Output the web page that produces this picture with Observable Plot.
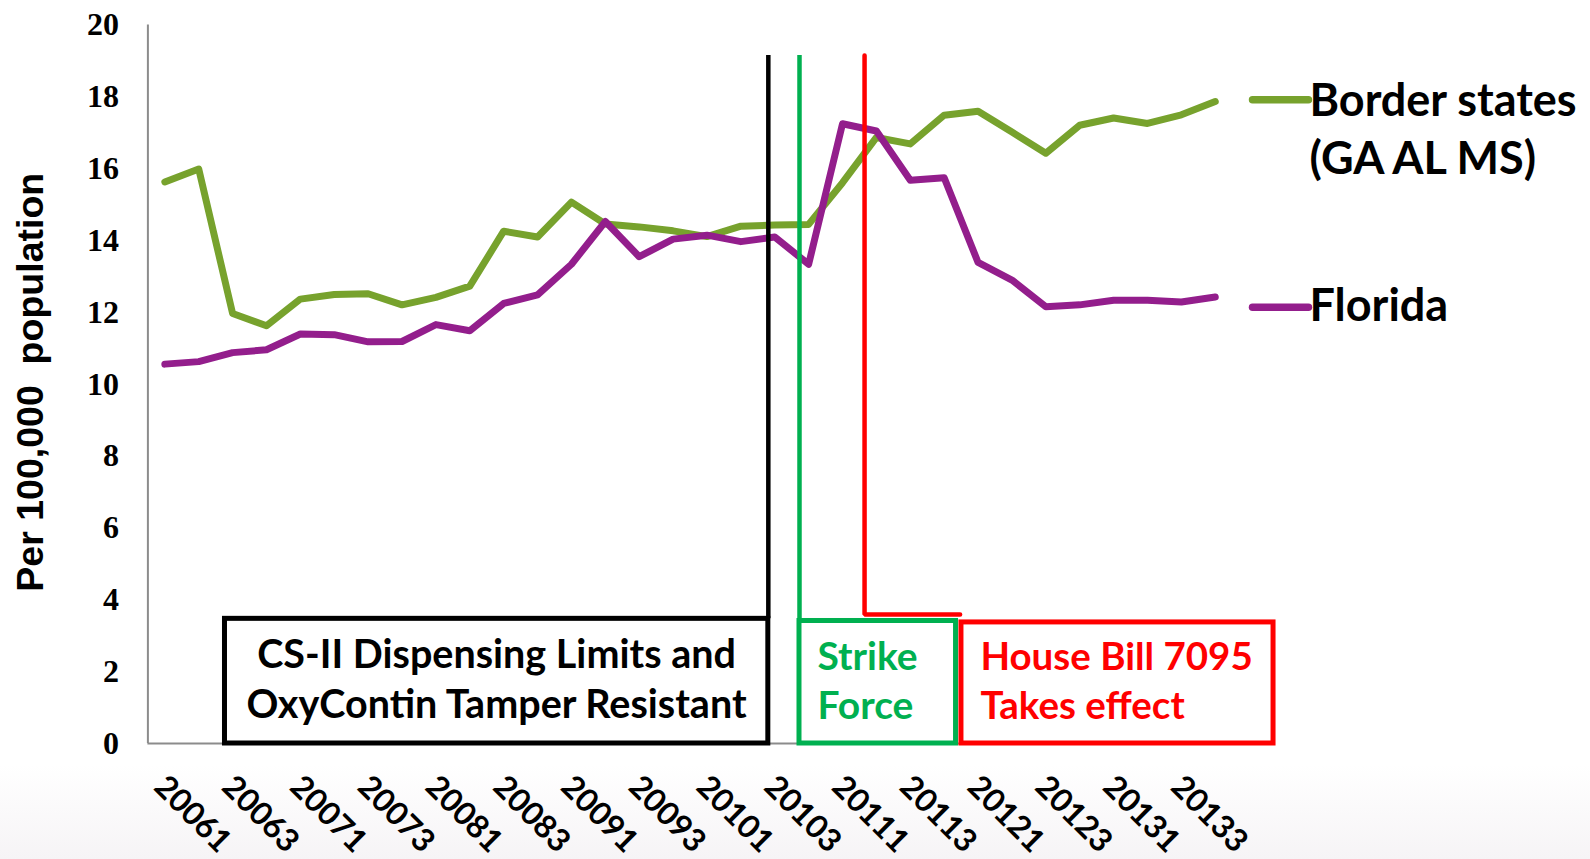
<!DOCTYPE html>
<html>
<head>
<meta charset="utf-8">
<script src="https://cdn.jsdelivr.net/npm/d3@7"></script>
<script src="https://cdn.jsdelivr.net/npm/@observablehq/plot@0.6"></script>
<style>
  html, body { margin: 0; padding: 0; }
  body {
    width: 1590px; height: 859px; overflow: hidden;
    background: linear-gradient(to bottom, #ffffff 0%, #ffffff 89%, #f6f4f6 100%);
  }
  #chart svg text { white-space: pre; }
  #chart g[aria-label="y-axis tick label"] { font-family: "Liberation Serif", "Times New Roman", serif; font-weight: bold; font-size: 32px; }
  #chart g[aria-label="x-axis tick label"] { font-family: Lato, "Open Sans", sans-serif; font-weight: bold; font-size: 32px; }
</style>
</head>
<body>
<div id="chart"></div>
<script>
// ---- data ----
const quarters = [
  "20061","20062","20063","20064","20071","20072","20073","20074",
  "20081","20082","20083","20084","20091","20092","20093","20094",
  "20101","20102","20103","20104","20111","20112","20113","20114",
  "20121","20122","20123","20124","20131","20132","20133","20134"
];
const borderStates = [
  15.63, 15.99, 11.97, 11.63, 12.37, 12.50, 12.52, 12.21,
  12.42, 12.73, 14.26, 14.10, 15.07, 14.46, 14.38, 14.27,
  14.11, 14.40, 14.43, 14.45, 15.61, 16.87, 16.69, 17.49,
  17.60, 17.02, 16.43, 17.21, 17.41, 17.26, 17.50, 17.87
];
const florida = [
  10.56, 10.63, 10.88, 10.96, 11.40, 11.38, 11.18, 11.19,
  11.66, 11.49, 12.25, 12.49, 13.34, 14.53, 13.55, 14.04,
  14.15, 13.97, 14.10, 13.34, 17.25, 17.05, 15.68, 15.75,
  13.39, 12.90, 12.16, 12.21, 12.34, 12.34, 12.29, 12.43
];
const seriesNames = ["Border states", "Florida"];
const legendLabels = ["Border states\n(GA AL MS)", "Florida"];
const seriesColors = ["#77A22D", "#931E8C"];
const yTicks = [0, 2, 4, 6, 8, 10, 12, 14, 16, 18, 20];
const yLabel = "Per 100,000  population";
const eventLabels = [
  "CS-II Dispensing Limits and\nOxyContin Tamper Resistant",
  "Strike\nForce",
  "House Bill 7095\nTakes effect"
];
const eventColors = ["#000000", "#00B050", "#FF0000"];

// ---- build table ----
const seriesValues = [borderStates, florida];
const rows = [];
seriesValues.forEach((vals, s) => vals.forEach((v, i) => rows.push({series: seriesNames[s], pos: i + 0.5, quarter: quarters[i], value: v})));
const xTickPos = quarters.map((q, i) => i + 0.5).filter((p, i) => i % 2 === 0);

// ---- annotation layout (category units on x, data units on y) ----
const lineTop = 19.15;
const boxes = [
  {x1: 2.275, x2: 18.31, y2: 3.47, tx: 10.29, ty: 1.86, anchor: "middle", size: 39.5},
  {x1: 19.23, x2: 23.85, y2: 3.41, tx: 19.76, ty: 1.81, anchor: "start", size: 39},
  {x1: 24.01, x2: 33.22, y2: 3.37, tx: 24.57, ty: 1.81, anchor: "start", size: 38.5}
];
const boldFont = "Lato, 'Open Sans', sans-serif";

const annotationMarks = [];
boxes.forEach((b, k) => {
  const color = eventColors[k];
  if (k === 0) annotationMarks.push(Plot.ruleX([b.x2], {y1: b.y2, y2: lineTop, stroke: color, strokeWidth: 4.5}));
  if (k === 1) annotationMarks.push(Plot.ruleX([b.x1], {y1: b.y2, y2: lineTop, stroke: color, strokeWidth: 4.5}));
  if (k === 2) annotationMarks.push(Plot.line([[21.15, lineTop], [21.15, 3.59], [23.97, 3.59]], {stroke: color, strokeWidth: 4.5, strokeLinejoin: "miter"}));
  annotationMarks.push(Plot.rect([b], {x1: "x1", x2: "x2", y1: 0, y2: "y2", fill: "white", stroke: color, strokeWidth: 5}));
  annotationMarks.push(Plot.text([eventLabels[k]], {x: b.tx, y: b.ty, text: d => d, fill: color, textAnchor: b.anchor, lineAnchor: "middle", lineHeight: 1.27, fontSize: b.size, fontWeight: "bold", fontFamily: boldFont}));
});

// ---- legend (placed right of plot) ----
const legendY = [[17.92, 17.18], [12.14, 12.27]]; // [sample line y, text block center y]
const legendMarks = [];
seriesNames.forEach((name, s) => {
  legendMarks.push(Plot.line([[32.6, legendY[s][0]], [34.25, legendY[s][0]]], {stroke: seriesColors[s], strokeWidth: 7.5, strokeLinecap: "round"}));
  legendMarks.push(Plot.text([legendLabels[s]], {x: 34.28, y: legendY[s][1], text: d => d, textAnchor: "start", lineAnchor: "middle", lineHeight: 1.3, fontSize: 45, fontWeight: "bold", fontFamily: boldFont, fill: "black"}));
});

const chart = Plot.plot({
  width: 1590,
  height: 859,
  marginLeft: 147.4,
  marginRight: 358.3,
  marginTop: 24.5,
  marginBottom: 116,
  style: {background: "transparent", overflow: "visible", fontFamily: boldFont},
  x: {type: "linear", domain: [0, 32]},
  y: {domain: [0, 20]},
  color: {domain: seriesNames, range: seriesColors},
  marks: [
    Plot.ruleX([0], {y1: 0, y2: 20, stroke: "#8c8c8c", strokeWidth: 2}),
    Plot.ruleY([0], {x1: 0, x2: 32, stroke: "#8c8c8c", strokeWidth: 2}),
    Plot.axisY({ticks: yTicks, tickSize: 0, tickPadding: 29, label: null, fontSize: 32, fontWeight: "bold", fontFamily: "Liberation Serif"}),
    Plot.axisX({ticks: xTickPos, tickFormat: d => quarters[Math.floor(d)], tickRotate: 45, tickSize: 0, tickPadding: 38, dx: -5, label: null, fontSize: 32, fontWeight: "bold", fontFamily: boldFont}),
    Plot.text([yLabel], {frameAnchor: "left", dx: -117, dy: -2, rotate: -90, textAnchor: "middle", lineAnchor: "middle", text: d => d, fontSize: 37.5, fontWeight: "bold", fontFamily: "'Liberation Sans', Arial, sans-serif", fill: "black"}),
    Plot.line(rows, {x: "pos", y: "value", z: "series", stroke: "series", strokeWidth: 7, strokeLinecap: "round", strokeLinejoin: "round"}),
    ...annotationMarks,
    ...legendMarks
  ]
});
document.getElementById("chart").appendChild(chart);
</script>
</body>
</html>
